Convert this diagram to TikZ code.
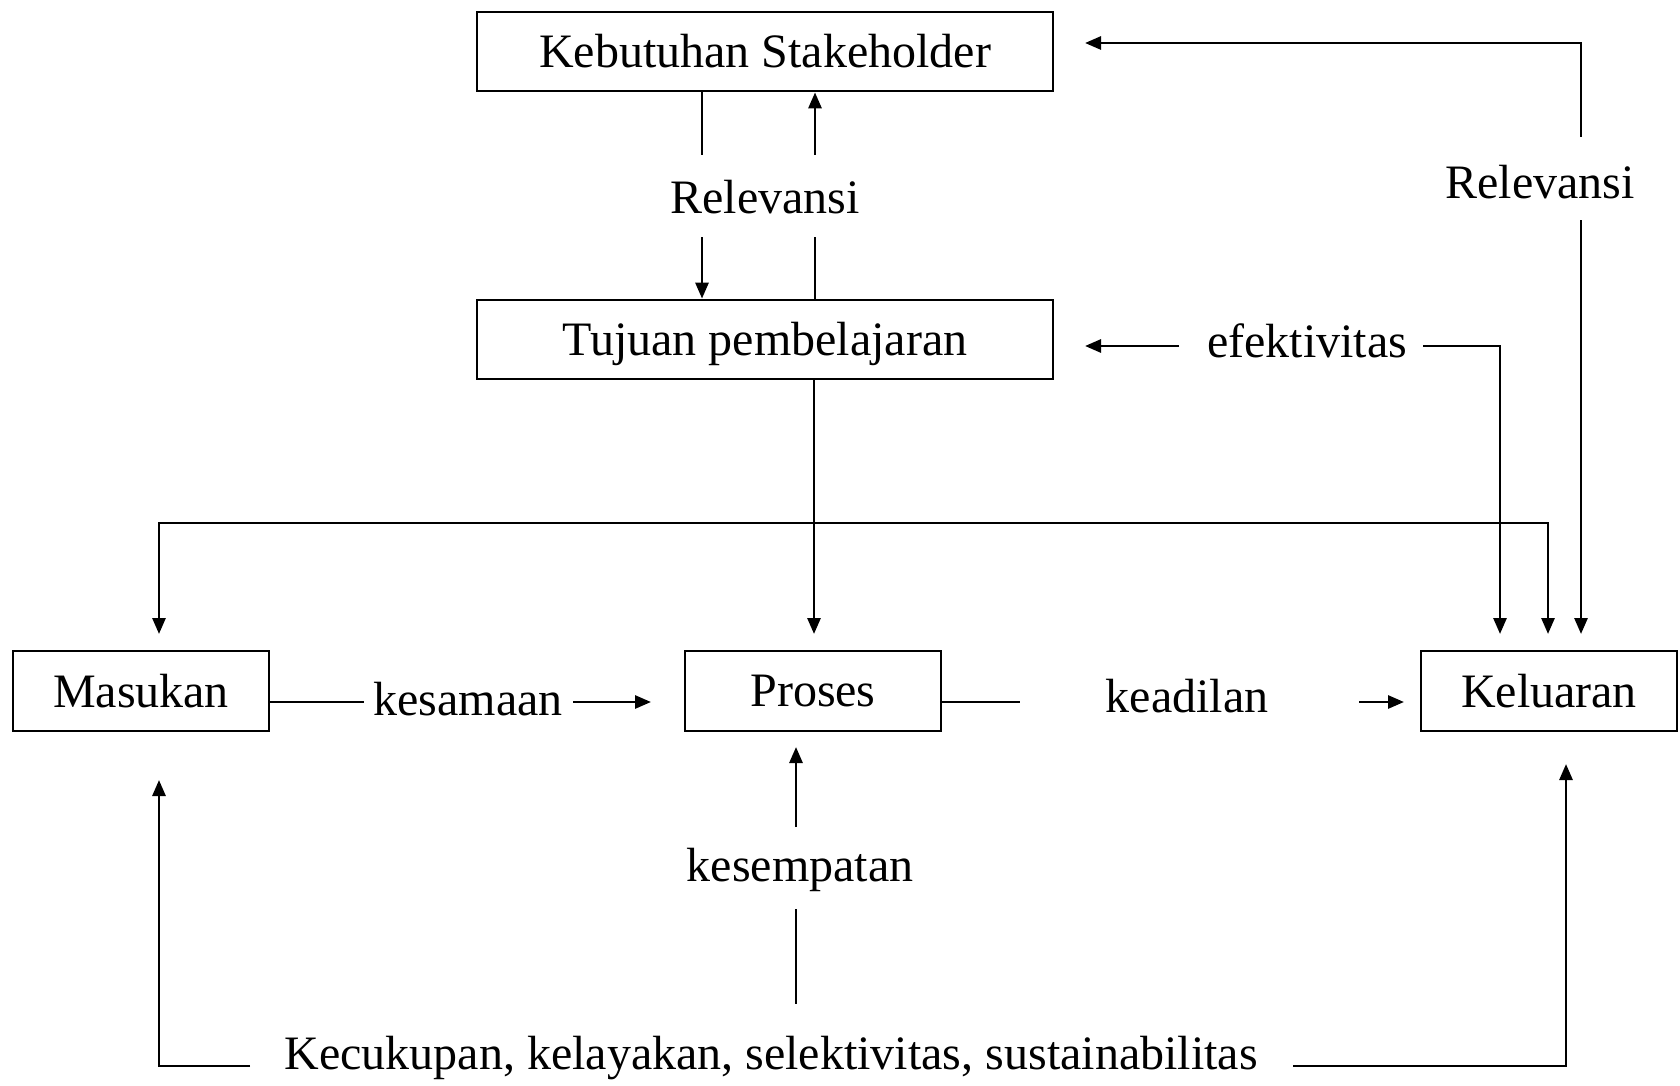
\documentclass[tikz,border=0pt]{standalone}
\usepackage{fontspec}
\setmainfont{Liberation Serif}
\usetikzlibrary{arrows.meta}
\begin{document}
\begin{tikzpicture}[x=1pt,y=-1pt,
  txt/.style={font=\fontsize{48}{58}\selectfont},
  box/.style={draw,line width=2.8pt,minimum width=576pt,minimum height=79pt,inner sep=0pt,txt},
  sbox/.style={box,minimum width=256pt,minimum height=80pt},
  lbl/.style={inner sep=0pt,txt},
  ln/.style={line width=2.8pt},
  arr/.style={ln,-{Triangle[length=16pt,width=13pt]}},
  darr/.style={ln,{Triangle[length=16pt,width=13pt]}-{Triangle[length=16pt,width=13pt]}}]
\useasboundingbox (0,0) rectangle (1680,1086);
% boxes
\node[box] (keb) at (765,51.5) {Kebutuhan Stakeholder};
\node[box,text height=33pt,text depth=2pt] (tuj) at (765,339.5) {Tujuan pembelajaran};
\node[sbox] (mas) at (141,691) {Masukan};
\node[sbox] (pro) at (813,691) {Proses};
\node[sbox] (kel) at (1549,691) {Keluaran};
% labels
\node[lbl] (rel1) at (765,197) {Relevansi};
\node[lbl] (rel2) at (1540,182) {Relevansi};
\node[lbl] (efek) at (1307,341) {efektivitas};
\node[lbl] (kesa) at (468,699) {kesamaan};
\node[lbl] (kead) at (1187,696) {keadilan};
\node[lbl] (kesem) at (800,870) {kesempatan};
\node[lbl] (kec) at (771,1058) {Kecukupan, kelayakan, selektivitas, sustainabilitas};
% coordinates
\coordinate (r1a) at (702,155);
\coordinate (r1b) at (702,237);
\coordinate (r2a) at (815,155);
\coordinate (r2b) at (815,237);
\coordinate (kebR) at (1085,43);
\coordinate (rr1) at (1581,137);
\coordinate (rr2) at (1581,220);
\coordinate (k3) at (1581,634);
\coordinate (tujR) at (1085,346);
\coordinate (ef1) at (1179,346);
\coordinate (ef2) at (1423,346);
\coordinate (k1) at (1500,634);
\coordinate (m1) at (159,634);
\coordinate (b1) at (159,523);
\coordinate (k2) at (1548,634);
\coordinate (p1) at (814,634);
\coordinate (ks1) at (364,702);
\coordinate (ks2) at (573,702);
\coordinate (ks3) at (651,702);
\coordinate (kd1) at (1020,702);
\coordinate (kd2) at (1359,702);
\coordinate (kd3) at (1404,702);
\coordinate (ke0) at (796,747);
\coordinate (ke1) at (796,827);
\coordinate (ke2) at (796,909);
\coordinate (ke3) at (796,1004);
\coordinate (bl) at (250,1066);
\coordinate (ml) at (159,780);
\coordinate (br) at (1293,1066);
\coordinate (kr) at (1566,764);
% connectors
\draw[ln] (keb.south -| r1a) -- (r1a);
\draw[arr] (r1b) -- (tuj.north -| r1b);
\draw[arr] (r2a) -- (keb.south -| r2a);
\draw[ln] (tuj.north -| r2b) -- (r2b);
\draw[arr] (rr1) |- (kebR);
\draw[arr] (rr2) -- (k3);
\draw[arr] (ef1) -- (tujR);
\draw[arr] (ef2) -| (k1);
\draw[darr] (m1) -- (b1) -| (k2);
\draw[arr] (tuj.south -| p1) -- (p1);
\draw[ln] (mas.east |- ks1) -- (ks1);
\draw[arr] (ks2) -- (ks3);
\draw[ln] (pro.east |- kd1) -- (kd1);
\draw[arr] (kd2) -- (kd3);
\draw[arr] (ke1) -- (ke0);
\draw[ln] (ke2) -- (ke3);
\draw[arr] (bl) -| (ml);
\draw[arr] (br) -| (kr);
\end{tikzpicture}
\end{document}
